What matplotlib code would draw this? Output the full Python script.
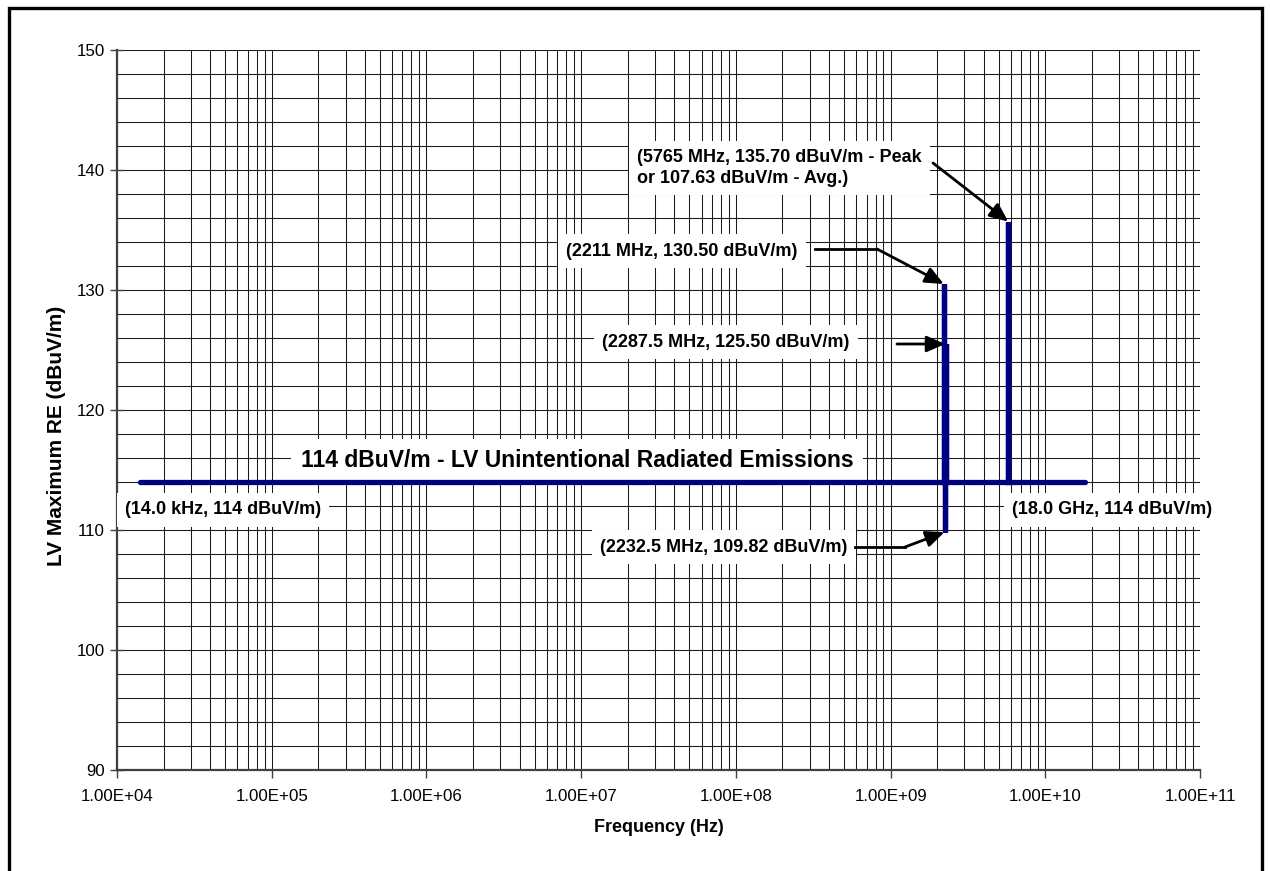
import numpy as np
import matplotlib
matplotlib.use("Agg")
import matplotlib.pyplot as plt
from matplotlib.ticker import FixedLocator, NullFormatter, FuncFormatter
from matplotlib.patches import Rectangle
from matplotlib.lines import Line2D

plt.rcParams['font.family'] = ['Liberation Sans', 'DejaVu Sans']

# ---- data ----
base_level = 114.0                      # dBuV/m, LV unintentional radiated emissions limit
start_freq_hz = 14.0e3
stop_freq_hz = 18.0e9
spike_freq_mhz = [2211.0, 2232.5, 2287.5, 5765.0]
spike_level = [130.50, 109.82, 125.50, 135.70]
avg_level_5765 = 107.63

spike_labels = [
    "(2211 MHz, 130.50 dBuV/m)",
    "(2232.5 MHz, 109.82 dBuV/m)",
    "(2287.5 MHz, 125.50 dBuV/m)",
    "(5765 MHz, 135.70 dBuV/m - Peak\nor %.2f dBuV/m - Avg.)" % avg_level_5765,
]
limit_title = "114 dBuV/m - LV Unintentional Radiated Emissions"
start_label = "(14.0 kHz, 114 dBuV/m)"
stop_label = "(18.0 GHz, 114 dBuV/m)"

decades = [1e4, 1e5, 1e6, 1e7, 1e8, 1e9, 1e10, 1e11]
y_ticks = [90, 100, 110, 120, 130, 140, 150]

# build the limit trace: flat line with vertical excursions at each spike
freq = [start_freq_hz]
level = [base_level]
for f_mhz, lv in zip(spike_freq_mhz, spike_level):
    f = f_mhz * 1e6
    freq += [f, f, f]
    level += [base_level, lv, base_level]
freq.append(stop_freq_hz)
level.append(base_level)

# ---- figure ----
W, H = 1270, 871
fig = plt.figure(figsize=(W / 100, H / 100), dpi=100)
AX_L, AX_R, AX_T, AX_B = 117, 1200, 50, 770
ax = fig.add_axes([AX_L / W, 1 - AX_B / H, (AX_R - AX_L) / W, (AX_B - AX_T) / H])

def px(x, y):
    """pixel position on the canvas -> axes fraction"""
    return ((x - AX_L) / (AX_R - AX_L), (AX_B - y) / (AX_B - AX_T))

ax.set_xscale('log')
ax.set_xlim(decades[0], decades[-1])
ax.set_ylim(y_ticks[0], y_ticks[-1])

# grid: every decade plus 2..9 subdivisions, every 2 dB vertically
minor_x = [d * k for d in decades[:-1] for k in range(2, 10)]
ax.xaxis.set_major_locator(FixedLocator(decades))
ax.xaxis.set_minor_locator(FixedLocator(minor_x))
ax.xaxis.set_minor_formatter(NullFormatter())


def sci_label(v, pos):
    e = int(round(np.log10(v)))
    return "%.2fE+%02d" % (v / 10 ** e, e)


ax.xaxis.set_major_formatter(FuncFormatter(sci_label))
ax.yaxis.set_major_locator(FixedLocator(y_ticks))
ax.yaxis.set_minor_locator(FixedLocator(np.arange(y_ticks[0], y_ticks[-1] + 1, 2)))

ax.grid(True, which='both', axis='both', color='#1a1a1a', linewidth=0.75, zorder=0)
ax.set_axisbelow(True)

ax.tick_params(axis='x', which='major', direction='out', length=6, width=1.0,
               color='#404040', labelsize=12.2, pad=8)
ax.tick_params(axis='x', which='minor', length=0)
ax.tick_params(axis='y', which='major', direction='inout', length=10, width=1.0,
               color='#404040', labelsize=12.2, pad=4)
ax.tick_params(axis='y', which='minor', length=0)

for s in ['top', 'right']:
    ax.spines[s].set_visible(False)
for s in ['left', 'bottom']:
    ax.spines[s].set_color('#404040')
    ax.spines[s].set_linewidth(1.6)

ax.set_xlabel("Frequency (Hz)", fontsize=13, fontweight='bold')
ax.xaxis.set_label_coords(0.5, px(0, 827)[1], transform=ax.transAxes)
ax.xaxis.label.set_va('center')
ax.set_ylabel("LV Maximum RE (dBuV/m)", fontsize=15, fontweight='bold')
ax.yaxis.set_label_coords(*px(57, 436), transform=ax.transAxes)
ax.yaxis.label.set_va('center')

# limit trace
ax.plot(freq, level, color='#000080', linewidth=3.8, solid_capstyle='round',
        solid_joinstyle='miter', zorder=5)

box = dict(facecolor='white', edgecolor='none', pad=6)
tkw = dict(transform=ax.transAxes, fontweight='bold', fontsize=13, bbox=box, zorder=4)

# title of the limit line
ax.text(*px(577, 460), limit_title, ha='center', va='center',
        **{**tkw, 'fontsize': 16.5, 'bbox': dict(facecolor='white', edgecolor='none', pad=7)})

# end-point labels
ax.text(*px(125, 510), start_label, ha='left', va='center', **tkw)
ax.text(*px(1012, 510), stop_label, ha='left', va='center', **tkw)

arrow = dict(arrowstyle='-|>,head_length=0.8,head_width=0.35', color='black',
             lw=2.0, shrinkA=0, shrinkB=0, mutation_scale=14)

# 5765 MHz (peak / average)
ax.text(*px(637, 168), spike_labels[3], ha='left', va='center', linespacing=1.25, **tkw)
ax.annotate("", xy=(spike_freq_mhz[3] * 1e6, spike_level[3]), xycoords='data',
            xytext=px(933, 163), textcoords='axes fraction', arrowprops=arrow, zorder=6)

# 2211 MHz
ax.text(*px(566, 251), spike_labels[0], ha='left', va='center', **tkw)
ax.add_line(Line2D(*zip(px(815, 249), px(877, 249)), transform=ax.transAxes,
                   color='black', lw=2.0, zorder=6))
ax.annotate("", xy=(spike_freq_mhz[0] * 1e6, spike_level[0]), xycoords='data',
            xytext=px(877, 249), textcoords='axes fraction', arrowprops=arrow, zorder=6)

# 2287.5 MHz
ax.text(*px(602, 342), spike_labels[2], ha='left', va='center', **tkw)
ax.annotate("", xy=(spike_freq_mhz[2] * 1e6 * 0.985, spike_level[2]), xycoords='data',
            xytext=px(897, 344), textcoords='axes fraction', arrowprops=arrow, zorder=6)

# 2232.5 MHz
ax.text(*px(600, 547), spike_labels[1], ha='left', va='center', **tkw)
ax.add_line(Line2D(*zip(px(855, 547), px(905, 547)), transform=ax.transAxes,
                   color='black', lw=2.0, zorder=6))
ax.annotate("", xy=(spike_freq_mhz[1] * 1e6, spike_level[1]), xycoords='data',
            xytext=px(905, 547), textcoords='axes fraction', arrowprops=arrow, zorder=6)

# outer chart border (bottom edge falls outside the canvas)
fig.patches.append(Rectangle((9 / W, -0.05), (1262 - 9) / W, 1.05 - 8 / H,
                             transform=fig.transFigure, fill=False,
                             edgecolor='black', linewidth=2.4, zorder=10))

fig.savefig("out.png", dpi=100, facecolor='white')
